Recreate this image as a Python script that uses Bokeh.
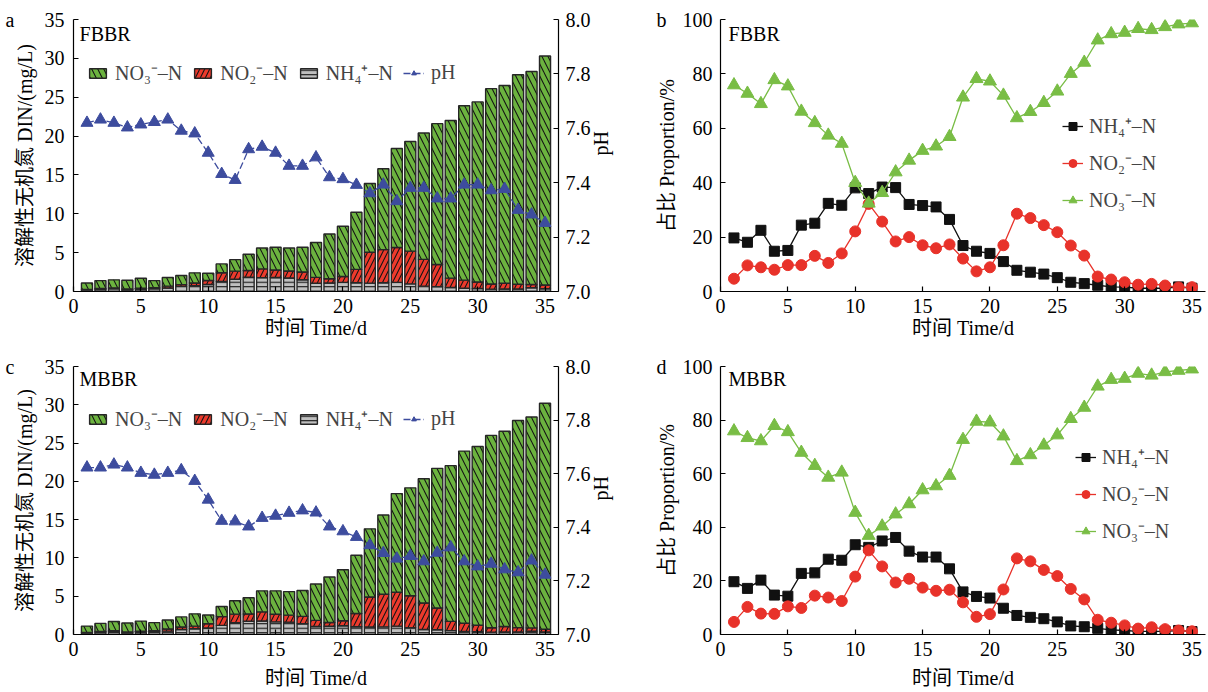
import math
from bokeh.plotting import figure
from bokeh.models import (Range1d, LinearAxis, FixedTicker, Legend, LegendItem, Label,
                          PrintfTickFormatter, ColumnDataSource)
from bokeh.layouts import column, row
from bokeh.embed import file_html
from bokeh.resources import INLINE

# ---------------- data ----------------
days = list(range(1, 36))

# FBBR concentrations (mg/L), stacked bars
fbbr_nh4 = [0.22, 0.25, 0.34, 0.21, 0.26, 0.34, 0.45, 0.66, 0.76, 0.90,
            1.28, 1.57, 1.83, 1.79, 1.80, 1.74, 1.51, 1.06, 1.10, 1.18,
            1.12, 1.08, 1.12, 1.18, 0.98, 0.69, 0.63, 0.51, 0.41, 0.39,
            0.31, 0.32, 0.33, 0.48, 0.36]
fbbr_no2 = [0.05, 0.13, 0.13, 0.12, 0.16, 0.14, 0.24, 0.22, 0.34, 0.52,
            1.14, 1.05, 0.88, 1.12, 0.97, 0.89, 0.99, 0.76, 0.55, 0.75,
            1.73, 3.98, 4.27, 4.49, 4.21, 3.45, 2.85, 1.21, 1.05, 0.83,
            0.65, 0.74, 0.61, 0.42, 0.48]
fbbr_no3 = [0.83, 1.02, 1.03, 1.12, 1.28, 0.92, 1.11, 1.17, 1.30, 0.93,
            1.13, 1.48, 2.09, 2.69, 2.93, 2.97, 3.20, 4.48, 5.75, 6.47,
            7.35, 8.84, 10.41, 12.73, 14.11, 16.26, 18.12, 20.28, 22.44, 23.18,
            25.14, 25.44, 26.96, 27.40, 29.46]
fbbr_ph = [7.620, 7.632, 7.620, 7.603, 7.614, 7.623, 7.632, 7.591, 7.581, 7.510,
           7.432, 7.410, 7.523, 7.532, 7.510, 7.462, 7.462, 7.493, 7.420, 7.413,
           7.392, 7.361, 7.393, 7.332, 7.381, 7.381, 7.342, 7.342, 7.393, 7.393,
           7.372, 7.377, 7.300, 7.283, 7.252]

# MBBR concentrations (mg/L)
mbbr_nh4 = [0.22, 0.25, 0.35, 0.22, 0.25, 0.35, 0.44, 0.65, 0.75, 0.85,
            1.19, 1.54, 1.74, 1.77, 1.65, 1.62, 1.41, 1.05, 1.07, 1.15,
            1.01, 0.98, 1.00, 1.09, 0.90, 0.65, 0.63, 0.51, 0.41, 0.37,
            0.31, 0.32, 0.34, 0.43, 0.33]
mbbr_no2 = [0.05, 0.15, 0.13, 0.12, 0.18, 0.15, 0.28, 0.32, 0.34, 0.55,
            1.15, 1.12, 0.93, 1.19, 1.00, 0.91, 0.96, 0.79, 0.50, 0.64,
            1.74, 3.92, 4.26, 4.43, 4.17, 3.46, 2.84, 1.21, 1.05, 0.83,
            0.57, 0.72, 0.56, 0.43, 0.36]
mbbr_no3 = [0.83, 1.05, 1.22, 1.16, 1.32, 1.05, 1.18, 1.33, 1.61, 1.15,
            1.31, 1.74, 2.13, 2.74, 3.05, 3.07, 3.38, 4.76, 5.93, 6.66,
            7.60, 8.90, 10.34, 12.88, 14.08, 16.24, 18.23, 20.33, 22.49, 23.35,
            25.12, 25.51, 27.05, 27.54, 29.51]
mbbr_ph = [7.623, 7.623, 7.634, 7.623, 7.603, 7.596, 7.603, 7.613, 7.573, 7.503,
           7.424, 7.422, 7.403, 7.435, 7.443, 7.454, 7.463, 7.455, 7.403, 7.385,
           7.364, 7.333, 7.304, 7.283, 7.293, 7.273, 7.305, 7.325, 7.273, 7.254,
           7.264, 7.243, 7.232, 7.276, 7.223]

# Proportions (%)
fbbr_p_nh4 = [19.7, 18.1, 22.5, 14.8, 15.1, 24.4, 25.1, 32.4, 31.7, 38.1,
              36.0, 38.4, 38.2, 32.0, 31.6, 31.1, 26.5, 16.9, 14.8, 14.0,
              11.0, 7.8, 7.1, 6.4, 5.1, 3.4, 2.9, 2.3, 1.7, 1.6,
              1.2, 1.2, 1.2, 1.7, 1.2]
fbbr_p_no2 = [4.7, 9.6, 8.9, 8.0, 9.7, 9.7, 13.1, 10.5, 14.0, 22.1,
              32.2, 25.7, 18.4, 20.0, 17.0, 15.9, 17.3, 12.1, 7.4, 8.9,
              17.0, 28.6, 27.0, 24.4, 21.8, 16.9, 13.2, 5.5, 4.4, 3.4,
              2.5, 2.8, 2.2, 1.5, 1.6]
fbbr_p_no3 = [75.9, 72.8, 69.0, 77.8, 75.5, 66.2, 62.0, 57.4, 54.4, 40.0,
              32.4, 36.3, 43.9, 48.2, 51.8, 53.4, 56.9, 71.4, 78.2, 77.3,
              72.1, 63.8, 66.1, 69.4, 73.6, 80.1, 84.2, 92.4, 94.7, 95.2,
              96.6, 96.2, 97.3, 98.3, 98.7]

mbbr_p_nh4 = [19.7, 17.2, 20.3, 14.7, 14.3, 22.8, 23.0, 28.1, 27.7, 33.5,
              32.5, 34.9, 36.2, 31.1, 28.9, 28.9, 24.5, 15.9, 14.2, 13.6,
              9.8, 7.1, 6.4, 5.9, 4.7, 3.2, 2.9, 2.3, 1.7, 1.5,
              1.2, 1.2, 1.2, 1.5, 1.1]
mbbr_p_no2 = [4.7, 10.3, 7.8, 7.7, 10.5, 9.9, 14.5, 13.8, 12.5, 21.6,
              31.4, 25.4, 19.4, 20.8, 17.5, 16.3, 16.7, 12.0, 6.6, 7.6,
              16.8, 28.4, 27.3, 24.1, 21.8, 17.0, 13.1, 5.5, 4.4, 3.4,
              2.2, 2.7, 2.0, 1.5, 1.2]
mbbr_p_no3 = [75.9, 73.4, 72.2, 77.9, 75.6, 67.9, 63.0, 58.6, 60.5, 45.5,
              36.9, 40.4, 44.9, 48.7, 53.9, 55.4, 59.3, 72.7, 79.5, 79.2,
              74.0, 64.8, 67.0, 70.6, 74.4, 80.5, 84.7, 92.6, 95.1, 95.5,
              97.4, 96.7, 98.0, 98.5, 99.0]

day_ticks = [0, 5, 10, 15, 20, 25, 30, 35]
din_ticks = [0, 5, 10, 15, 20, 25, 30, 35]
ph_ticks = [7.0, 7.2, 7.4, 7.6, 7.8, 8.0]
pct_ticks = [0, 20, 40, 60, 80, 100]

lab_no3 = "NO\u2083\u207b\u2013N"
lab_no2 = "NO\u2082\u207b\u2013N"
lab_nh4 = "NH\u2084\u207a\u2013N"

# ---------------- style ----------------
FONT = "Liberation Serif, Noto Sans CJK SC"
LFONT = "Liberation Serif"
FS = "20px"
GREEN_BAR = "#6cb33f"
RED_BAR = "#ec3a2c"
GRAY_BAR = "#bfbfbf"
BLUE = "#3d4c9e"
BLACK = "#111111"
RED = "#e8322a"
GREEN = "#79bd45"


def style_axis(ax, standoff, label_standoff):
    ax.axis_line_color = "black"
    ax.axis_line_width = 1.2
    ax.major_tick_line_color = "black"
    ax.major_tick_line_width = 1.2
    ax.major_tick_in = 5
    ax.major_tick_out = 0
    ax.minor_tick_line_color = None
    ax.major_label_text_font = LFONT
    ax.major_label_text_font_size = FS
    ax.major_label_text_color = "black"
    ax.major_label_standoff = standoff
    ax.axis_label_text_font = FONT
    ax.axis_label_text_font_size = FS
    ax.axis_label_text_font_style = "normal"
    ax.axis_label_text_color = "black"
    ax.axis_label_standoff = label_standoff


def letter_axis(p, top_value, letter, standoff):
    # outer left axis that only carries the panel letter at the top tick
    ax = LinearAxis(ticker=FixedTicker(ticks=[top_value]),
                    major_label_overrides={top_value: letter})
    ax.axis_line_color = None
    ax.major_tick_line_color = None
    ax.minor_tick_line_color = None
    ax.major_tick_in = 0
    ax.major_tick_out = 0
    ax.major_label_standoff = standoff
    ax.major_label_text_font = LFONT
    ax.major_label_text_font_size = FS
    ax.major_label_text_color = "black"
    p.add_layout(ax, "left")


def text_label(p, x, y, text):
    p.add_layout(Label(x=x, y=y, text=text, text_font=LFONT, text_font_size=FS,
                       text_baseline="middle", text_align="left", text_color="black"))


def bar_panel(letter, name, nh4, no2, no3, ph, height, top, bottom, xlab_standoff,
              leg_y, name_y):
    p = figure(width=630, height=height, x_range=Range1d(0, 36), y_range=Range1d(0, 35),
               output_backend="svg", toolbar_location=None,
               min_border_left=73, min_border_right=72, min_border_top=top,
               min_border_bottom=bottom)
    p.outline_line_color = None
    p.grid.visible = False
    p.xaxis.ticker = FixedTicker(ticks=day_ticks)
    p.yaxis.ticker = FixedTicker(ticks=din_ticks)
    p.xaxis.axis_label = "时间 Time/d"
    p.yaxis.axis_label = "溶解性无机氮 DIN/(mg/L)"
    style_axis(p.xaxis[0], 7, xlab_standoff)
    style_axis(p.yaxis[0], 9, 6)
    letter_axis(p, 35, letter, -4)

    p.extra_y_ranges = {"ph": Range1d(7.0, 8.0)}
    ax_r = LinearAxis(y_range_name="ph", axis_label="pH",
                      ticker=FixedTicker(ticks=ph_ticks),
                      formatter=PrintfTickFormatter(format="%.1f"))
    style_axis(ax_r, 7, 7)
    ax_r.axis_label_text_font = LFONT
    ax_r.axis_label_orientation = math.pi / 2
    p.add_layout(ax_r, "right")

    src = ColumnDataSource(dict(day=days, nh4=nh4, no2=no2, no3=no3))
    rs = p.vbar_stack(["nh4", "no2", "no3"], x="day", width=0.82, source=src,
                      fill_color=[GRAY_BAR, RED_BAR, GREEN_BAR],
                      line_color="#262626", line_width=1.4,
                      hatch_pattern=["horizontal_line", "right_diagonal_line", "left_diagonal_line"],
                      hatch_color="#141414", hatch_weight=1.1,
                      hatch_scale=[4.5, 10, 12])

    ln = p.line(days, ph, y_range_name="ph", color=BLUE, line_width=1.3, line_dash="7 3")
    sc = p.scatter(days, ph, y_range_name="ph", marker="triangle", size=12,
                   fill_color=BLUE, line_color=BLUE)

    leg = Legend(items=[LegendItem(label=lab_no3, renderers=[rs[2]]),
                        LegendItem(label=lab_no2, renderers=[rs[1]]),
                        LegendItem(label=lab_nh4, renderers=[rs[0]]),
                        LegendItem(label="pH", renderers=[ln, sc])],
                 orientation="horizontal", location=(14, leg_y),
                 glyph_width=21, glyph_height=12, label_height=20,
                 label_text_font=LFONT, label_text_font_size=FS,
                 label_standoff=7, spacing=10, padding=0, margin=0,
                 border_line_color=None, background_fill_alpha=0)
    p.add_layout(leg)

    text_label(p, 0.45, name_y, name)
    return p


def pct_panel(letter, name, p_nh4, p_no2, p_no3, height, top, bottom, xlab_standoff,
              leg_x, leg_y, name_y):
    p = figure(width=578, height=height, x_range=Range1d(0, 36), y_range=Range1d(0, 100),
               output_backend="svg", toolbar_location=None,
               min_border_left=90, min_border_right=3, min_border_top=top,
               min_border_bottom=bottom)
    p.outline_line_color = None
    p.grid.visible = False
    p.xaxis.ticker = FixedTicker(ticks=day_ticks)
    p.yaxis.ticker = FixedTicker(ticks=pct_ticks)
    p.xaxis.axis_label = "时间 Time/d"
    p.yaxis.axis_label = "占比 Proportion/%"
    style_axis(p.xaxis[0], 7, xlab_standoff)
    style_axis(p.yaxis[0], 8, 2)
    letter_axis(p, 100, letter, -14)

    l1 = p.line(days, p_nh4, color=BLACK, line_width=1.3)
    s1 = p.scatter(days, p_nh4, marker="square", size=10, color=BLACK)
    l2 = p.line(days, p_no2, color=RED, line_width=1.3)
    s2 = p.scatter(days, p_no2, marker="circle", size=11, color=RED)
    l3 = p.line(days, p_no3, color=GREEN, line_width=1.3)
    s3 = p.scatter(days, p_no3, marker="triangle", size=13, color=GREEN)

    leg = Legend(items=[LegendItem(label=lab_nh4, renderers=[l1, s1]),
                        LegendItem(label=lab_no2, renderers=[l2, s2]),
                        LegendItem(label=lab_no3, renderers=[l3, s3])],
                 orientation="vertical", location=(leg_x, leg_y),
                 glyph_width=21, glyph_height=20, label_height=20,
                 label_text_font=LFONT, label_text_font_size=FS,
                 label_standoff=6, spacing=10, padding=0, margin=0,
                 border_line_color=None, background_fill_alpha=0)
    p.add_layout(leg)

    text_label(p, 0.6, name_y, name)
    return p


pa = bar_panel("a", "FBBR", fbbr_nh4, fbbr_no2, fbbr_no3, fbbr_ph, 346, 19, 55, 1, 205, 33.1)
pc = bar_panel("c", "MBBR", mbbr_nh4, mbbr_no2, mbbr_no3, mbbr_ph, 345, 20, 54, 8, 202, 33.4)
pb = pct_panel("b", "FBBR", fbbr_p_nh4, fbbr_p_no2, fbbr_p_no3, 346, 19, 55, 1, 342, 78, 94.6)
pd_ = pct_panel("d", "MBBR", mbbr_p_nh4, mbbr_p_no2, mbbr_p_no3, 345, 20, 54, 8, 355, 90, 95.2)

layout = column(row(pa, pb), row(pc, pd_))
open("out.html", "w").write(file_html(layout, INLINE))
